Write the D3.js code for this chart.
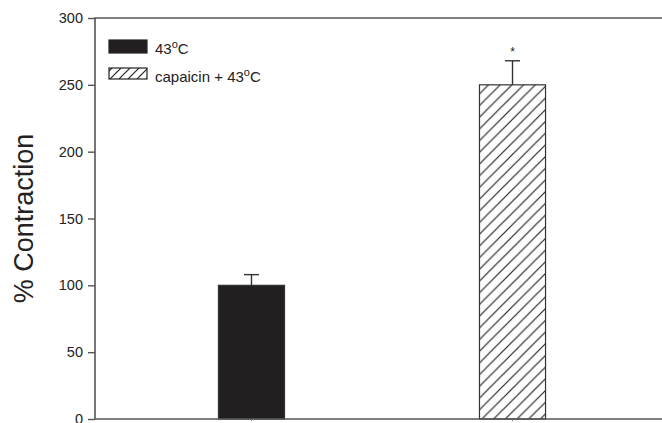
<!DOCTYPE html>
<html>
<head>
<meta charset="utf-8">
<script src="https://cdn.jsdelivr.net/npm/d3@7"></script>
<style>
  html, body { margin: 0; padding: 0; background: #fff; }
  svg { display: block; }
  text { font-family: "Liberation Sans", Arial, Helvetica, sans-serif; fill: #222; }
</style>
</head>
<body>
<script>
// Groups, mean % contraction and standard error (upper bar only)
const groups = ["43°C", "capaicin + 43°C"];
const means = [100, 250];
const errors = [8, 18];
const significant = [false, true];
const yTicks = [0, 50, 100, 150, 200, 250, 300];
const yTitle = "% Contraction";

const W = 662, H = 423;
const margin = { left: 95, top: 18, right: -7, bottom: 4 };
const x0 = margin.left, x1 = W - margin.right;
const y0 = H - margin.bottom, y1 = margin.top;

const svg = d3.select("body").append("svg").attr("width", W).attr("height", H);

const defs = svg.append("defs");
function hatch(id, step) {
  const p = defs.append("pattern")
    .attr("id", id).attr("patternUnits", "userSpaceOnUse")
    .attr("width", step).attr("height", step);
  p.append("rect").attr("width", step).attr("height", step).attr("fill", "#fff");
  p.append("path")
    .attr("d", `M${-step / 2},${step / 2} L${step / 2},${-step / 2} M0,${step} L${step},0 M${step / 2},${step * 1.5} L${step * 1.5},${step / 2}`)
    .attr("stroke", "#222").attr("stroke-width", 1.2);
}
hatch("hatchBar", 11.7);
hatch("hatchKey", 9);
const fills = ["#231f20", "url(#hatchBar)"];
const keyFills = ["#231f20", "url(#hatchKey)"];

const x = d3.scaleBand().domain(groups).range([x0, x1]).paddingInner(0.747).paddingOuter(0.473);
const y = d3.scaleLinear().domain([0, 300]).range([y0, y1]);

// bars
svg.append("g").selectAll("rect").data(groups).join("rect")
  .attr("x", d => x(d))
  .attr("y", (d, i) => y(means[i]))
  .attr("width", x.bandwidth())
  .attr("height", (d, i) => y(0) - y(means[i]))
  .attr("fill", (d, i) => fills[i])
  .attr("stroke", "#333").attr("stroke-width", 1.2);

// upper error bars
const eb = svg.append("g").attr("stroke", "#333").attr("stroke-width", 1.4);
groups.forEach((g, i) => {
  const cx = x(g) + x.bandwidth() / 2;
  eb.append("line").attr("x1", cx).attr("x2", cx)
    .attr("y1", y(means[i])).attr("y2", y(means[i] + errors[i]));
  eb.append("line").attr("x1", cx - 7.5).attr("x2", cx + 7.5)
    .attr("y1", y(means[i] + errors[i])).attr("y2", y(means[i] + errors[i]));
  if (significant[i]) {
    svg.append("text").attr("x", cx).attr("y", y(means[i] + errors[i]) - 5)
      .attr("text-anchor", "middle").attr("font-size", 12).text("*");
  }
});

// frame: left, top and bottom lines
const frame = svg.append("g").attr("stroke", "#555").attr("stroke-width", 1.6).attr("fill", "none");
frame.append("path").attr("d", `M${x1},${y1} H${x0} V${y0} H${x1}`);

// small marks at group centres
svg.append("g").selectAll("line").data(groups).join("line")
  .attr("x1", d => x(d) + x.bandwidth() / 2).attr("x2", d => x(d) + x.bandwidth() / 2)
  .attr("y1", y0).attr("y2", y0 + 2).attr("stroke", "#777").attr("stroke-width", 1);

// y axis
const yAxis = svg.append("g").attr("transform", `translate(${x0},0)`)
  .call(d3.axisLeft(y).tickValues(yTicks).tickSize(7).tickPadding(5));
yAxis.select(".domain").remove();
yAxis.selectAll(".tick line").attr("stroke", "#555").attr("stroke-width", 1.4);
yAxis.selectAll(".tick text").attr("font-size", 14.5).attr("fill", "#222")
  .attr("font-family", "'Liberation Sans', Arial, sans-serif");

// y title
svg.append("text")
  .attr("transform", `translate(33,${(y0 + y1) / 2}) rotate(-90)`)
  .attr("text-anchor", "middle").attr("font-size", 27).text(yTitle);

// legend
const leg = svg.append("g");
groups.forEach((g, i) => {
  const ly = 40 + i * 28;
  leg.append("rect").attr("x", 109).attr("y", ly).attr("width", 38).attr("height", i === 0 ? 13 : 11)
    .attr("fill", keyFills[i]).attr("stroke", "#222").attr("stroke-width", 1.2);
  const t = leg.append("text").attr("x", 155).attr("y", ly + 14).attr("font-size", 15);
  const parts = g.split("°");
  t.append("tspan").text(parts[0]);
  t.append("tspan").attr("dy", -6).attr("font-size", 11).text("o");
  t.append("tspan").attr("dy", 6).text(parts[1]);
});
</script>
</body>
</html>
